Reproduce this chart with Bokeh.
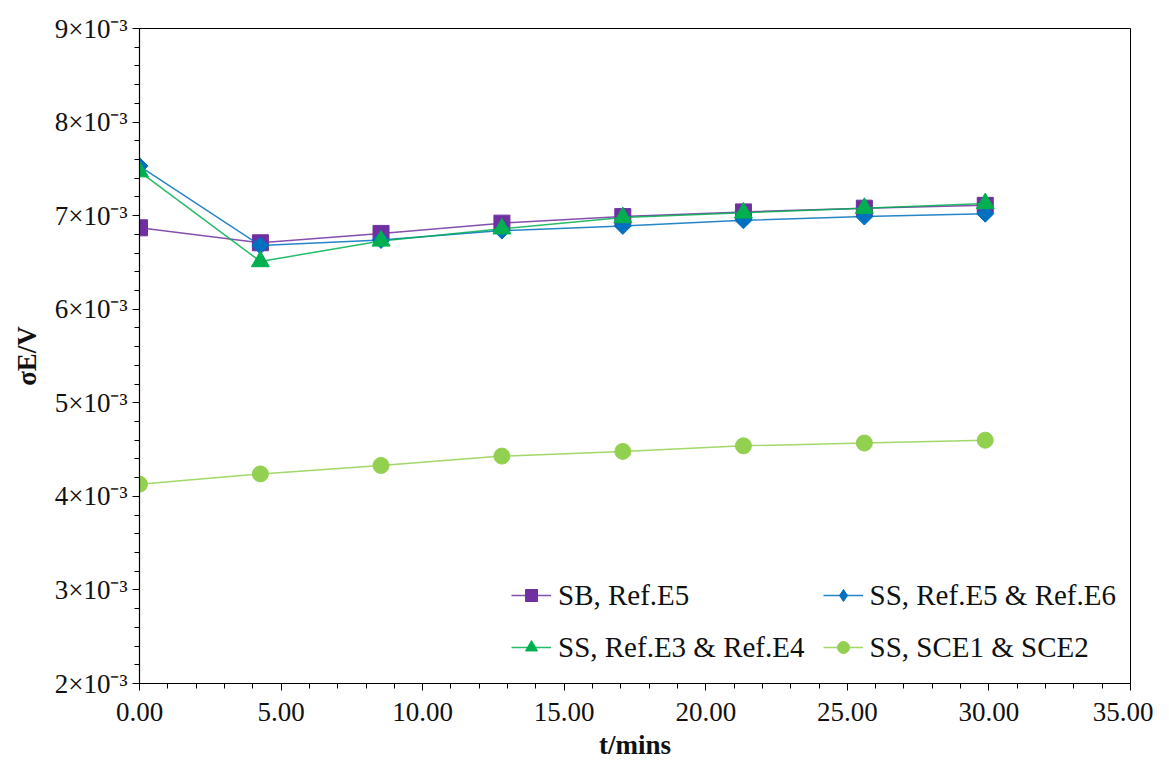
import math
from bokeh.plotting import figure
from bokeh.models import (FixedTicker, NumeralTickFormatter, CustomJSTickFormatter,
                          Legend, LegendItem, ColumnDataSource)
from bokeh.embed import file_html
from bokeh.resources import INLINE

# ---- data ----
t_mins = [0.00, 4.27, 8.53, 12.80, 17.07, 21.33, 25.60, 29.87]
sb_ref_e5 = [6.87e-3, 6.71e-3, 6.81e-3, 6.92e-3, 6.99e-3, 7.04e-3, 7.08e-3, 7.11e-3]
ss_ref_e5_e6 = [7.53e-3, 6.68e-3, 6.74e-3, 6.84e-3, 6.89e-3, 6.95e-3, 6.99e-3, 7.02e-3]
ss_ref_e3_e4 = [7.47e-3, 6.51e-3, 6.73e-3, 6.86e-3, 6.98e-3, 7.03e-3, 7.08e-3, 7.13e-3]
ss_sce1_sce2 = [4.13e-3, 4.24e-3, 4.33e-3, 4.43e-3, 4.48e-3, 4.54e-3, 4.57e-3, 4.60e-3]

series_names = ["SB, Ref.E5", "SS, Ref.E5 & Ref.E6", "SS, Ref.E3 & Ref.E4", "SS, SCE1 & SCE2"]
series_values = [sb_ref_e5, ss_ref_e5_e6, ss_ref_e3_e4, ss_sce1_sce2]
series_colors = ["#7030A0", "#0070C0", "#00B050", "#92D050"]
series_markers = ["square", "diamond", "triangle", "circle"]
series_sizes = [16, 14, 18, 16]

x_ticks = [0, 5, 10, 15, 20, 25, 30, 35]
y_ticks = [2e-3, 3e-3, 4e-3, 5e-3, 6e-3, 7e-3, 8e-3, 9e-3]

FONT = "Liberation Serif"

p = figure(frame_width=991, frame_height=655, x_range=(0, 35), y_range=(2e-3, 9e-3),
           output_backend="svg", toolbar_location=None,
           min_border_left=139, min_border_right=23, min_border_top=28, min_border_bottom=71)
p.xgrid.visible = False
p.ygrid.visible = False
p.outline_line_color = "black"
p.outline_line_width = 1
p.background_fill_color = "white"
p.border_fill_color = "white"

items = []
for name, vals, col, mk, sz in zip(series_names, series_values, series_colors,
                                   series_markers, series_sizes):
    src = ColumnDataSource(dict(x=t_mins, y=vals))
    ln = p.line("x", "y", source=src, line_color=col, line_width=1.5, line_alpha=0.85)
    sc = p.scatter("x", "y", source=src, marker=mk, size=sz, fill_color=col, line_color=col)
    if mk == "diamond":
        # square diamond look in the plot area (rotated square over the legend diamond)
        p.scatter("x", "y", source=src, marker="square", angle=math.pi / 4, size=12,
                  fill_color=col, line_color=col)
    items.append(LegendItem(label=name, renderers=[ln, sc]))

legend = Legend(items=items, location=(372, 19), orientation="horizontal", ncols=2,
                glyph_width=40, glyph_height=30, label_standoff=7, spacing=18,
                label_height=34, padding=0, margin=0,
                label_text_font=FONT, label_text_font_size="29px", label_text_color="#111111",
                border_line_color=None, background_fill_alpha=0)
p.add_layout(legend, "center")

# x axis
xa = p.xaxis[0]
xa.ticker = FixedTicker(ticks=x_ticks, minor_ticks=list(range(0, 36)))
xa.formatter = NumeralTickFormatter(format="0.00")
xa.axis_label = "t/mins"
# y axis
ya = p.yaxis[0]
ya.ticker = FixedTicker(ticks=y_ticks, minor_ticks=[2e-3 + i * 0.2e-3 for i in range(36)])
ya.formatter = CustomJSTickFormatter(code='return Math.round(tick*1000) + "\u00d710\u207b\u00b3";')
ya.axis_label = "\u03c3E/V"

for ax in (xa, ya):
    ax.axis_line_color = "black"
    ax.axis_line_width = 1.2
    ax.major_tick_line_color = "black"
    ax.minor_tick_line_color = "black"
    ax.major_tick_in = 0
    ax.major_tick_out = 7
    ax.minor_tick_in = 0
    ax.minor_tick_out = 5
    ax.major_label_text_font = FONT
    ax.major_label_text_font_size = "27px"
    ax.major_label_text_color = "#111111"
    ax.axis_label_text_font = FONT
    ax.axis_label_text_font_size = "27px"
    ax.axis_label_text_font_style = "bold"
    ax.axis_label_text_color = "#111111"

xa.major_label_standoff = 12
xa.axis_label_standoff = 6
ya.major_label_standoff = 5
ya.axis_label_standoff = 10

open("out.html", "w").write(file_html(p, INLINE))
